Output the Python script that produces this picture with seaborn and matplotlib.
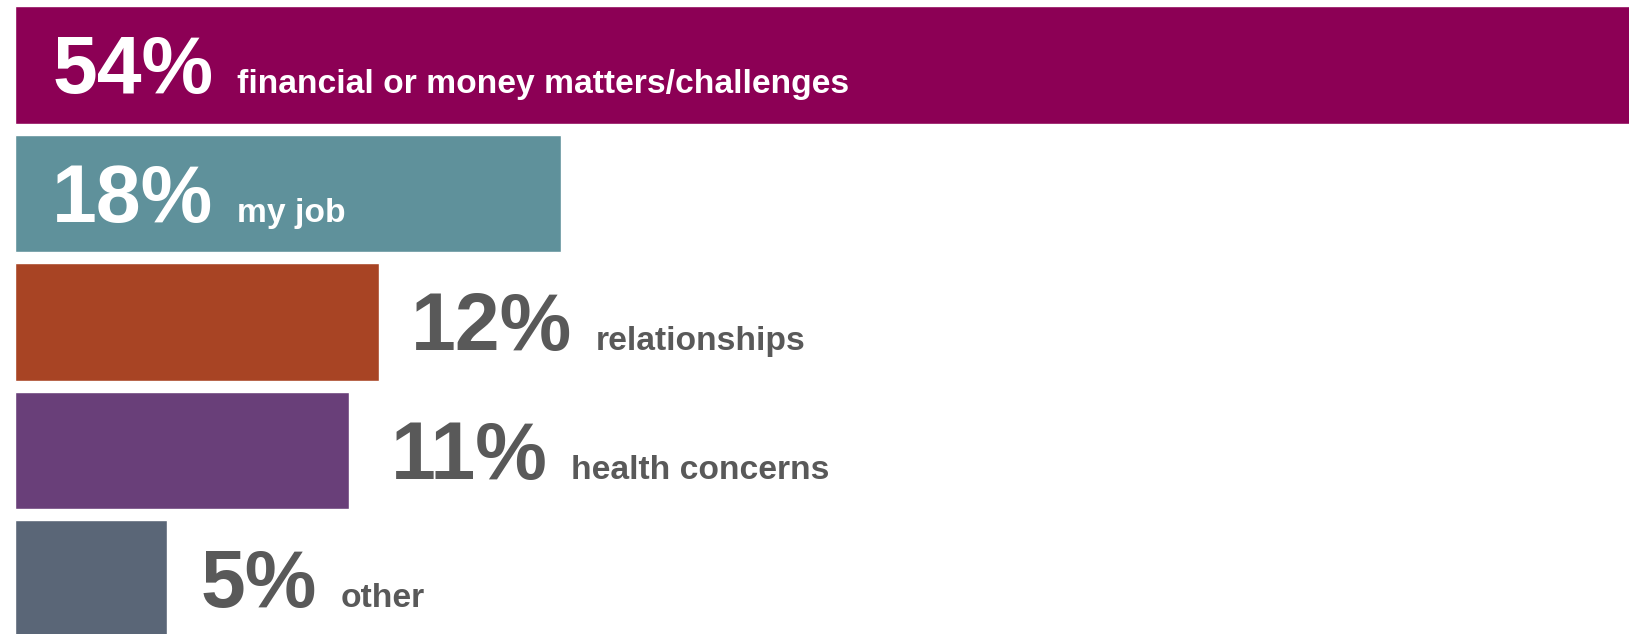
import matplotlib
matplotlib.use("Agg")
import matplotlib.pyplot as plt
import seaborn as sns
import pandas as pd

# Survey shares: main sources of stress
categories = ["financial or money matters/challenges", "my job", "relationships",
              "health concerns", "other"]
shares = [54, 18, 12, 11, 5]
colors = ["#8C0055", "#5F919B", "#A84424", "#693F79", "#5A6677"]
inside = [True, True, False, False, False]
# horizontal gap (pixels) between the anchor and the percentage text
label_pad = [37, 37, 32, 42, 34]

sns.set_theme(style="white")
plt.rcParams["font.family"] = ["Liberation Sans", "DejaVu Sans"]

df = pd.DataFrame({"category": categories, "share": shares})

fig = plt.figure(figsize=(16.29, 6.34), dpi=100)
ax = fig.add_axes([0, 0, 1, 1])
sns.barplot(data=df, x="share", y="category", hue="category", palette=colors,
            orient="h", width=0.918, saturation=1, legend=False, ax=ax)

ax.set_xlim(-0.50, 53.25)
ax.set_ylim(4.428, -0.506)
ax.set_axis_off()

grey = "#595959"
fig.canvas.draw()
renderer = fig.canvas.get_renderer()
for i, (cat, val, ins, pad) in enumerate(zip(categories, shares, inside, label_pad)):
    color = "white" if ins else grey
    anchor_x = 0 if ins else val
    pct = ax.annotate(f"{val}%", xy=(anchor_x, i), xytext=(pad, -28),
                      textcoords="offset pixels", fontsize=58, fontweight="bold",
                      color=color, va="baseline", ha="left")
    ext = pct.get_window_extent(renderer)
    x_disp = ext.x1 + 24
    x_data = ax.transData.inverted().transform((x_disp, 0))[0]
    ax.annotate(cat, xy=(x_data, i), xytext=(0, -28), textcoords="offset pixels",
                fontsize=24.2, fontweight="bold", color=color,
                va="baseline", ha="left")

fig.savefig("out.png", dpi=100)
